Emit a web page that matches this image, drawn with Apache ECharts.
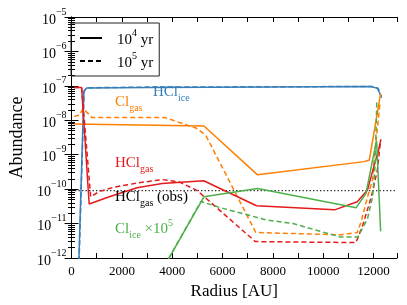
<!DOCTYPE html>
<html><head><meta charset="utf-8">
<script src="https://cdn.jsdelivr.net/npm/echarts@6/dist/echarts.min.js"></script>
<style>html,body{margin:0;padding:0;background:#fff}#c{width:407px;height:305px}</style>
</head><body><div id="c"></div>
<script>
// ---- data (radius in AU, abundance) ----
const xMin = 0, xMax = 12930;
const yMin = 1e-12, yMax = 1e-5;
const xTickStep = 1000;
const hclObs = 9e-11;
const hclIce4 = [[290, 8e-13], [490, 7e-8], [600, 8.7e-8], [3000, 9e-8], [8000, 9.2e-8], [11900, 9.5e-8], [12150, 8.5e-8], [12300, 5e-8]];
const hclIce5 = [[300, 8e-13], [500, 7e-8], [620, 8.8e-8], [3000, 9.2e-8], [8000, 9.4e-8], [11950, 9.6e-8], [12180, 8.5e-8], [12320, 4.5e-8]];
const clGas4 = [[100, 7.8e-9], [5260, 6.8e-9], [7390, 2.6e-10], [11630, 6.3e-10], [11830, 7e-10], [12280, 6e-8]];
const clGas5 = [[100, 1.3e-8], [300, 1.4e-8], [460, 2.2e-8], [810, 1.2e-8], [2500, 1.2e-8], [3700, 1.2e-8], [4940, 6e-9], [5330, 3.7e-9], [7320, 5.5e-12], [10700, 4.7e-12], [11350, 5.5e-12], [11500, 1.1e-11], [11760, 6e-11], [11960, 1.9e-10], [12020, 7e-10], [12250, 3e-8]];
const hclGas4 = [[100, 9e-8], [400, 9e-8], [700, 3.7e-11], [1500, 6e-11], [2600, 1.1e-10], [3600, 1.45e-10], [5250, 1.75e-10], [7350, 3.3e-11], [10450, 2.5e-11], [11350, 4.3e-11], [11760, 9.5e-11], [12010, 4.5e-10], [12200, 1.4e-9], [12290, 2.8e-9]];
const hclGas5 = [[100, 9e-8], [400, 9e-8], [760, 6e-11], [1100, 8.5e-11], [1700, 1.15e-10], [2600, 1.5e-10], [3600, 1.9e-10], [4300, 1.6e-10], [5000, 9e-11], [7300, 3e-12], [11300, 2.8e-12], [11570, 9e-12], [11830, 3.8e-11], [11960, 8.5e-11], [12150, 3.6e-10], [12280, 2.7e-9]];
const clIce4 = [[3700, 6e-13], [5260, 6e-11], [7390, 1.05e-10], [11310, 2.9e-11], [11700, 7.6e-11], [11960, 7e-10], [12120, 2.5e-9], [12280, 6e-12]];
const clIce5 = [[3700, 6e-13], [5140, 4.4e-11], [5840, 3e-11], [7770, 1.26e-11], [8800, 1e-11], [10670, 4.1e-12], [11380, 4.1e-12], [11760, 1.4e-11], [11960, 6e-11], [12060, 5e-10], [12130, 4e-8]];
const legendNames = ['4', '5'];

const FONT = 'Liberation Serif';
const C = { blue: '#377eb8', orange: '#ff7f00', red: '#e41a1c', green: '#4daf4a' };
const chart = echarts.init(document.getElementById('c'), null, { renderer: 'canvas' });

function ln(name, data, color, dashed, z) {
  return {
    name, type: 'line', data, symbol: 'none', clip: true, z: z || 2,
    lineStyle: { color, width: 1.5, type: dashed ? [5, 3] : 'solid' },
    itemStyle: { color }, animation: false
  };
}
const tickRich = {
  n: { fontFamily: FONT, fontSize: 14, color: '#000', lineHeight: 20, verticalAlign: 'bottom' },
  s: { fontFamily: FONT, fontSize: 10, color: '#000', lineHeight: 12, verticalAlign: 'top' }
};
const legRich = {
  n: { fontFamily: FONT, fontSize: 15, color: '#000', lineHeight: 20, verticalAlign: 'bottom' },
  s: { fontFamily: FONT, fontSize: 10, color: '#000', lineHeight: 12, verticalAlign: 'top' }
};
const yLab = v => {
  const e = Math.round(Math.log10(v));
  return '{n|10}{s|' + (e < 0 ? '\u2212' : '') + Math.abs(e) + '}';
};
const yAxisBase = {
  type: 'log', logBase: 10, min: yMin, max: yMax,
  axisLine: { show: true, lineStyle: { color: '#000', width: 1 } },
  axisTick: { show: true, inside: true, length: 7, lineStyle: { color: '#000' } },
  minorTick: { show: true, splitNumber: 9, length: 3.5, lineStyle: { color: '#000' } },
  splitLine: { show: false }, minorSplitLine: { show: false }
};
const xAxisBase = {
  type: 'value', min: xMin, max: xMax, interval: xTickStep,
  axisLine: { show: true, onZero: false, lineStyle: { color: '#000', width: 1 } },
  axisTick: { show: true, inside: true, length: 5, lineStyle: { color: '#000' } },
  splitLine: { show: false }
};
function labelText(text, color, left, top) {
  return {
    type: 'text', left, top, z: 10,
    style: {
      text, fill: color,
      rich: {
        m: { fontFamily: FONT, fontSize: 15, fill: color, lineHeight: 22, verticalAlign: 'middle' },
        b: { fontFamily: FONT, fontSize: 10, fill: color, lineHeight: 11, verticalAlign: 'bottom' },
        u: { fontFamily: FONT, fontSize: 10, fill: color, lineHeight: 8, verticalAlign: 'top' }
      }
    }
  };
}

chart.setOption({
  animation: false,
  backgroundColor: '#fff',
  grid: { left: 62, right: 10, top: 17, bottom: 47, show: false },
  xAxis: [
    Object.assign({}, xAxisBase, {
      position: 'bottom', name: 'Radius [AU]', nameLocation: 'middle', nameGap: 22,
      nameTextStyle: { fontFamily: FONT, fontSize: 17, color: '#000' },
      axisLabel: { fontFamily: FONT, fontSize: 13, color: '#000', margin: 7,
        formatter: v => (v % 2000 === 0 ? String(v) : '') }
    }),
    Object.assign({}, xAxisBase, { position: 'top', axisLabel: { show: false } })
  ],
  yAxis: [
    Object.assign({}, yAxisBase, {
      position: 'left', name: 'Abundance', nameLocation: 'middle', nameGap: 45,
      nameTextStyle: { fontFamily: FONT, fontSize: 18, color: '#000' },
      axisLabel: { formatter: yLab, rich: tickRich, margin: 5 }
    }),
    Object.assign({}, yAxisBase, { position: 'right', axisLabel: { show: false } })
  ],
  legend: {
    left: 71, top: 23, orient: 'vertical', padding: [5, 6, 5, 8],
    itemWidth: 22, itemHeight: 14, itemGap: 3,
    borderColor: '#222', borderWidth: 1, borderRadius: 0,
    itemStyle: { opacity: 0 },
    data: legendNames,
    formatter: n => '{n|10}{s|' + n + '}{n| yr}',
    textStyle: { padding: [0, 0, 0, 10], rich: legRich },
    selectedMode: false
  },
  series: [
    ln('4', [], '#000', false),
    ln('5', [], '#000', true),
    Object.assign(ln('obs', [[xMin, hclObs], [xMax, hclObs]], '#000', false, 1), { lineStyle: { color: '#222', width: 1.3, type: [1.3, 2.2] } }),
    ln('hclIce4', hclIce4, C.blue, false),
    ln('hclIce5', hclIce5, C.blue, true),
    ln('clGas4', clGas4, C.orange, false),
    ln('clGas5', clGas5, C.orange, true),
    ln('hclGas4', hclGas4, C.red, false),
    ln('hclGas5', hclGas5, C.red, true),
    ln('clIce4', clIce4, C.green, false),
    ln('clIce5', clIce5, C.green, true)
  ],
  graphic: [
    labelText('{m|HCl}{b|ice}', C.blue, 153, 85),
    labelText('{m|Cl}{b|gas}', C.orange, 115, 95),
    labelText('{m|HCl}{b|gas}', C.red, 115, 156),
    labelText('{m|HCl}{b|gas}{m| (obs)}', '#000', 115, 190),
    labelText('{m|Cl}{b|ice}{m| \u00d710}{u|5}', C.green, 115, 218)
  ]
});
</script></body></html>
